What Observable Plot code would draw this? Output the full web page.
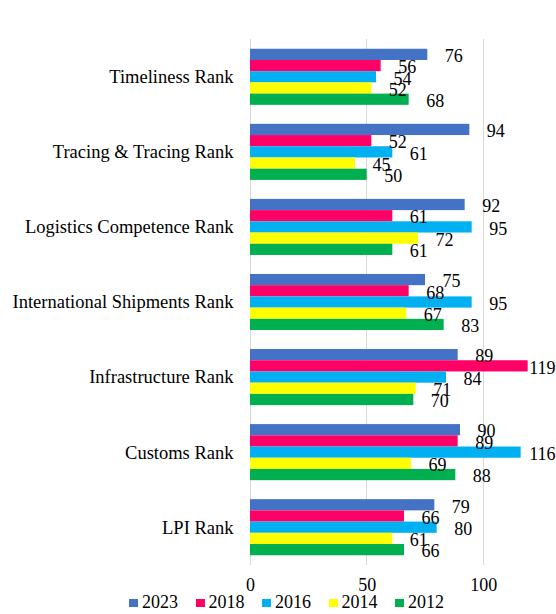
<!DOCTYPE html>
<html>
<head>
<meta charset="utf-8">
<script src="https://cdn.jsdelivr.net/npm/d3@7"></script>
<script src="https://cdn.jsdelivr.net/npm/@observablehq/plot@0.6"></script>
<style>
  html, body { margin: 0; padding: 0; background: #fff; }
  body { width: 556px; height: 614px; overflow: hidden; font-family: 'Liberation Serif', serif; }
  #chart svg, #chart svg text { font-family: 'Liberation Serif', serif !important; }
  #legend { display: flex; margin-left: 129px; height: 20px; line-height: 20px; font-size: 18px; color: #000; font-family: 'Liberation Serif', serif; }
  #legend .item { display: flex; align-items: center; margin-right: 17.5px; }
  #legend .sw { width: 9px; height: 8px; margin-right: 4px; margin-top: 1px; }
</style>
</head>
<body>
<div id="chart"></div>
<div id="legend"></div>
<script>
const categories = ["Timeliness Rank", "Tracing & Tracing Rank", "Logistics Competence Rank", "International Shipments Rank", "Infrastructure Rank", "Customs Rank", "LPI Rank"];
const years = ["2023", "2018", "2016", "2014", "2012"];
const colors = ["#4472C4", "#FF0066", "#00B0F0", "#FFFF00", "#00B050"];
const v2023 = [76, 94, 92, 75, 89, 90, 79];
const v2018 = [56, 52, 61, 68, 119, 89, 66];
const v2016 = [54, 61, 95, 95, 84, 116, 80];
const v2014 = [52, 45, 72, 67, 71, 69, 61];
const v2012 = [68, 50, 61, 83, 70, 88, 66];
const xTicks = [0, 50, 100];

const series = [v2023, v2018, v2016, v2014, v2012];
const data = categories.flatMap((c, i) => years.map((y, j) => ({category: c, year: y, value: series[j][i]})));

const W = 556, H = 592, MT = 39, MB = 27, ML = 250, MR = 26;
const FONT = "'Liberation Serif', serif";

const chart = Plot.plot({
  width: W,
  height: H,
  marginTop: MT,
  marginBottom: MB,
  marginLeft: ML,
  marginRight: MR,
  style: {fontFamily: FONT, fontSize: "18px", color: "#000", background: "#fff", overflow: "visible"},
  x: {domain: [0, 120], label: null},
  y: {domain: years, axis: null, padding: 0, round: false},
  fy: {domain: categories, paddingInner: 0.253, paddingOuter: 0.13, round: false, label: null},
  color: {domain: years, range: colors},
  marks: [
    Plot.axisFy({anchor: "left", tickSize: 0, tickPadding: 17, fontSize: 18.5, fontFamily: FONT, label: null}),
    Plot.axisX({ticks: xTicks, tickSize: 0, tickPadding: 22, fontSize: 18, fontFamily: FONT, label: null}),
    Plot.barX(data, {x: "value", y: "year", fy: "category", fill: "year"}),
    Plot.text(data.filter(d => d.value < 110), {x: "value", y: "year", fy: "category", text: d => String(d.value), textAnchor: "start", dx: 17, dy: 1.5, fill: "#000", fontSize: 18, fontFamily: FONT}),
    Plot.text(data.filter(d => d.value >= 110), {y: "year", fy: "category", text: d => String(d.value), frameAnchor: "right", textAnchor: "end", dx: 25, dy: 1.5, fill: "#000", fontSize: 18, fontFamily: FONT})
  ]
});
document.getElementById("chart").appendChild(chart);

// continuous vertical gridlines drawn through Plot's own x scale
const xs = chart.scale("x");
const svg = d3.select(chart);
const grid = svg.insert("g", ":scope > g").attr("class", "grid");
grid.selectAll("line").data(xTicks).join("line")
  .attr("x1", d => xs.apply(d)).attr("x2", d => xs.apply(d))
  .attr("y1", MT).attr("y2", H - MB)
  .attr("stroke", "#d9d9d9").attr("stroke-width", 1).attr("shape-rendering", "crispEdges");

const legend = document.getElementById("legend");
years.forEach((y, i) => {
  const item = document.createElement("div");
  item.className = "item";
  const sw = document.createElement("span");
  sw.className = "sw";
  sw.style.background = colors[i];
  const t = document.createElement("span");
  t.textContent = y;
  item.appendChild(sw);
  item.appendChild(t);
  legend.appendChild(item);
});
</script>
</body>
</html>
